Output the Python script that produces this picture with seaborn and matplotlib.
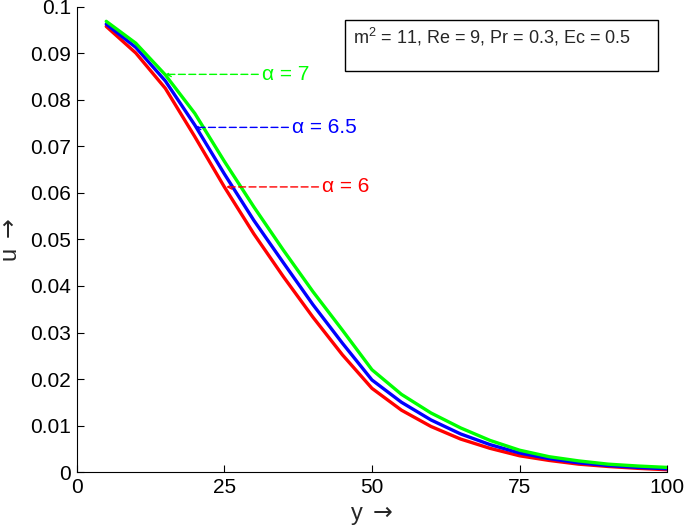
import numpy as np
import pandas as pd
import matplotlib
matplotlib.use("Agg")
import matplotlib.pyplot as plt
import seaborn as sns
from matplotlib.patches import Rectangle

y_vals = [5, 10, 15, 20, 25, 30, 35, 40, 45, 50, 55, 60, 65, 70, 75, 80, 85, 90, 95, 100]
u_alpha6 = [0.0958, 0.0901, 0.0825, 0.0721, 0.0613, 0.0512, 0.0420, 0.0333, 0.0252, 0.0180,
            0.0133, 0.0098, 0.0071, 0.0051, 0.0035, 0.0025, 0.0017, 0.0012, 0.0008, 0.0005]
u_alpha65 = [0.0963, 0.0913, 0.0841, 0.0746, 0.0641, 0.0541, 0.0450, 0.0360, 0.0277, 0.0198,
             0.0150, 0.0112, 0.0082, 0.0059, 0.0041, 0.0029, 0.0020, 0.0014, 0.0010, 0.0007]
u_alpha7 = [0.0969, 0.0922, 0.0854, 0.0771, 0.0668, 0.0570, 0.0477, 0.0388, 0.0305, 0.0220,
            0.0167, 0.0127, 0.0095, 0.0068, 0.0047, 0.0033, 0.0024, 0.0017, 0.0013, 0.0010]
series_names = ["α = 6", "α = 6.5", "α = 7"]
series_colors = ["#ff0000", "#0000ff", "#00ff00"]
x_ticks = [0, 25, 50, 75, 100]
y_ticks = [0, 0.01, 0.02, 0.03, 0.04, 0.05, 0.06, 0.07, 0.08, 0.09, 0.1]
y_ticklabels = ["0", "0.01", "0.02", "0.03", "0.04", "0.05", "0.06", "0.07", "0.08", "0.09", "0.1"]
info_text = r"m$^2$ = 11, Re = 9, Pr = 0.3, Ec = 0.5"
x_label = r"y $\mathsf{\rightarrow}$"
y_label = r"u $\mathsf{\rightarrow}$"

df = pd.DataFrame({
    "y": y_vals * 3,
    "u": u_alpha6 + u_alpha65 + u_alpha7,
    "alpha": [series_names[0]] * len(y_vals) + [series_names[1]] * len(y_vals) + [series_names[2]] * len(y_vals),
})

sns.set_style("ticks")
plt.rcParams["font.family"] = ["Liberation Sans", "DejaVu Sans"]
plt.rcParams["mathtext.fontset"] = "custom"
plt.rcParams["mathtext.rm"] = "Liberation Sans"
plt.rcParams["mathtext.it"] = "Liberation Sans"
plt.rcParams["mathtext.sf"] = "DejaVu Sans"

fig = plt.figure(figsize=(6.85, 5.31), dpi=100)
ax = fig.add_axes([0.112, 0.111, 0.862, 0.876])

sns.lineplot(data=df, x="y", y="u", hue="alpha", hue_order=series_names,
             palette=dict(zip(series_names, series_colors)), linewidth=2.4,
             legend=False, ax=ax)

ax.set_xlim(0, 100)
ax.set_ylim(0, 0.1)
ax.set_xticks(x_ticks)
ax.set_xticklabels([str(t) for t in x_ticks])
ax.set_yticks(y_ticks)
ax.set_yticklabels(y_ticklabels)
ax.tick_params(direction="in", length=5, width=0.8, labelsize=15, colors="black", pad=4)
for s in ["top", "right"]:
    ax.spines[s].set_visible(False)
for s in ["left", "bottom"]:
    ax.spines[s].set_color("black")
    ax.spines[s].set_linewidth(0.8)

ax.set_xlabel(x_label, fontsize=17, labelpad=5)
ax.set_ylabel(y_label, fontsize=17, labelpad=6)

# annotations
ann = [
    (series_names[2], series_colors[2], (15, 0.0855), (31.3, 0.0855)),
    (series_names[1], series_colors[1], (20, 0.0741), (36.4, 0.0741)),
    (series_names[0], series_colors[0], (25.3, 0.0613), (41.5, 0.0613)),
]
for name, col, tip, txt in ann:
    ax.annotate(name, xy=tip, xytext=txt, color=col, fontsize=15,
                va="center", ha="left",
                arrowprops=dict(arrowstyle="->", color=col, lw=1.0,
                                linestyle=(0, (5, 2.5)), shrinkA=0, shrinkB=0,
                                mutation_scale=8))

ax.add_patch(Rectangle((45.5, 0.0862), 53.0, 0.0110, fill=False, edgecolor="black",
                       linewidth=1.0, clip_on=False))
ax.text(46.8, 0.0935, info_text, fontsize=13, va="center", ha="left")

fig.savefig("out.png", dpi=100)
